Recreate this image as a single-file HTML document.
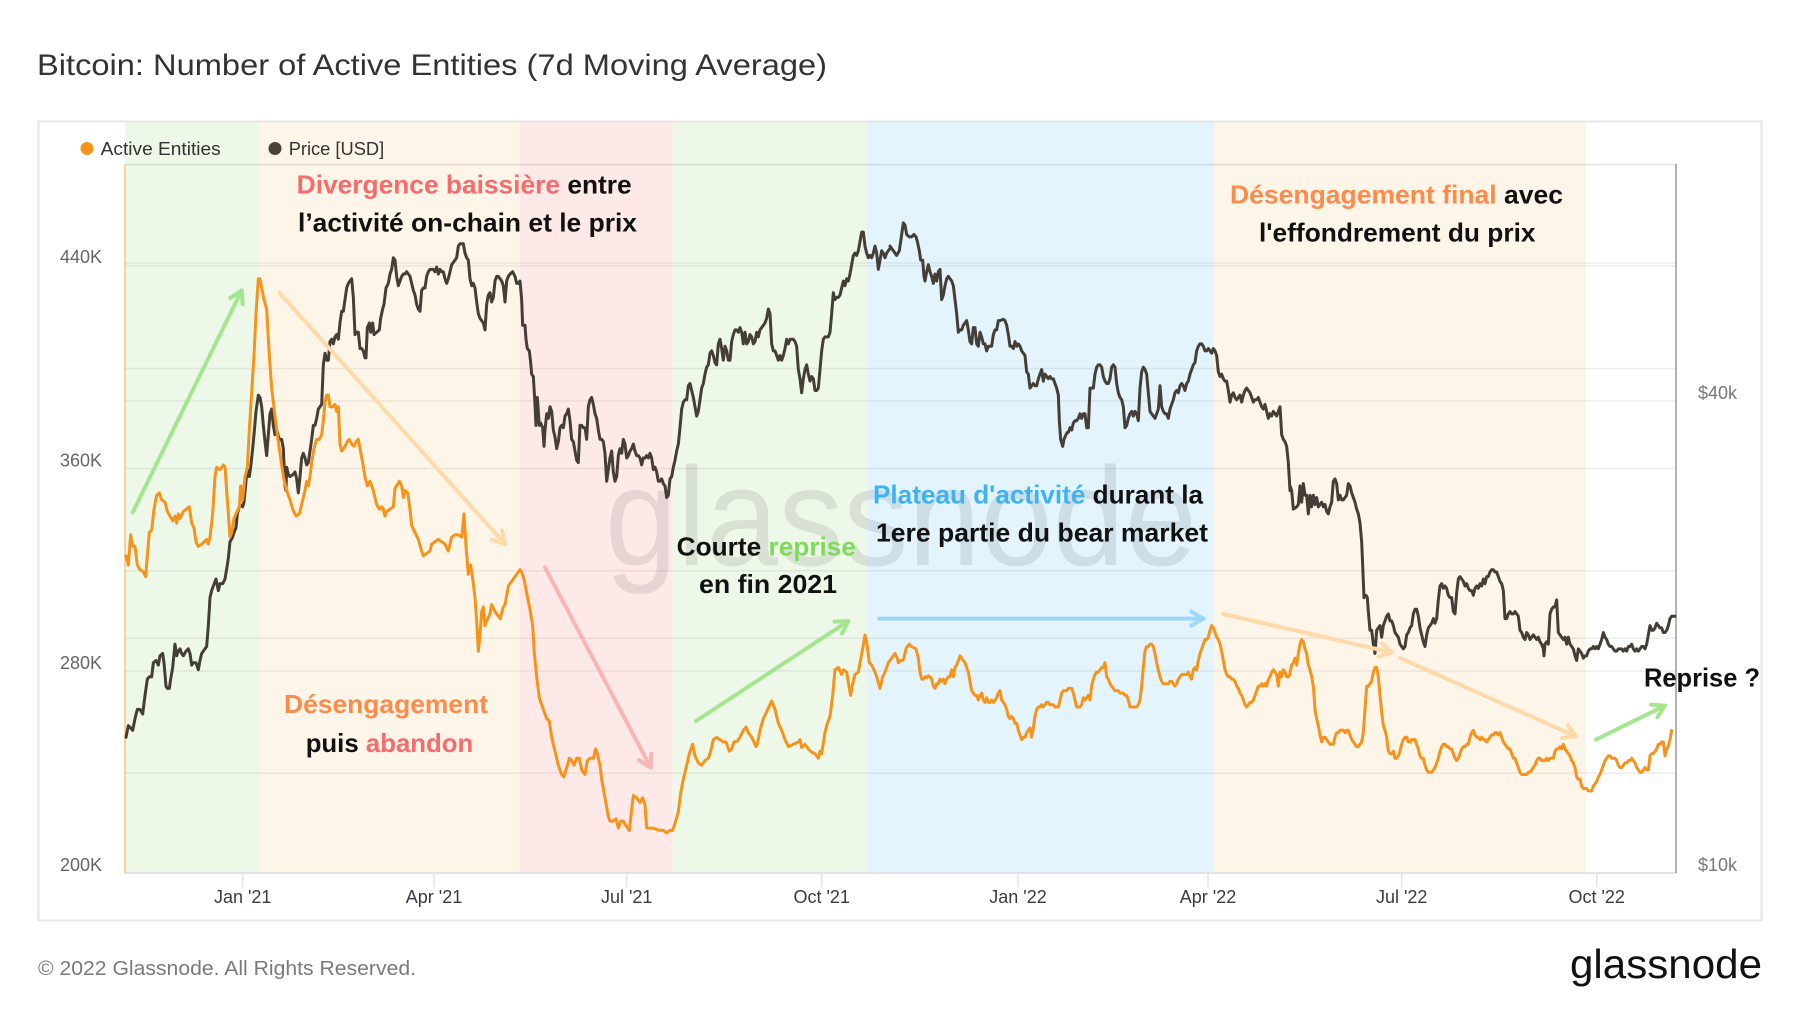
<!DOCTYPE html>
<html>
<head>
<meta charset="utf-8">
<style>
html,body{margin:0;padding:0;background:#fff;}
body{width:1800px;height:1013px;overflow:hidden;}
svg{display:block;}
text{font-family:"Liberation Sans",Arial,sans-serif;}
</style>
</head>
<body>
<svg width="1800" height="1013" viewBox="0 0 1800 1013" xmlns="http://www.w3.org/2000/svg">
<defs>
<marker id="mg" viewBox="0 0 20 20" refX="17" refY="10" markerWidth="20" markerHeight="20" orient="auto" markerUnits="userSpaceOnUse"><path d="M5,3 L17,10 L5,17" fill="none" stroke="#a5e590" stroke-width="4" stroke-linecap="round" stroke-linejoin="round"/></marker>
<marker id="mo" viewBox="0 0 20 20" refX="17" refY="10" markerWidth="20" markerHeight="20" orient="auto" markerUnits="userSpaceOnUse"><path d="M5,3 L17,10 L5,17" fill="none" stroke="#fed9a9" stroke-width="4" stroke-linecap="round" stroke-linejoin="round"/></marker>
<marker id="mp" viewBox="0 0 20 20" refX="17" refY="10" markerWidth="20" markerHeight="20" orient="auto" markerUnits="userSpaceOnUse"><path d="M5,3 L17,10 L5,17" fill="none" stroke="#f9b4b4" stroke-width="4" stroke-linecap="round" stroke-linejoin="round"/></marker>
<marker id="mb" viewBox="0 0 20 20" refX="17" refY="10" markerWidth="20" markerHeight="20" orient="auto" markerUnits="userSpaceOnUse"><path d="M5,3 L17,10 L5,17" fill="none" stroke="#9dd8fb" stroke-width="4" stroke-linecap="round" stroke-linejoin="round"/></marker>
</defs>

<!-- Title -->
<text x="37" y="75" font-size="30" fill="#333" textLength="790" lengthAdjust="spacingAndGlyphs">Bitcoin: Number of Active Entities (7d Moving Average)</text>

<!-- Box -->
<rect x="38.5" y="121.5" width="1723" height="799" fill="#fff" stroke="#e6e6e6" stroke-width="2"/>

<!-- Bands -->
<rect x="125.5" y="122.5" width="134.5" height="750.5" fill="#eef8e9"/>
<rect x="260" y="122.5" width="259.3" height="750.5" fill="#fef5e9"/>
<rect x="519.3" y="122.5" width="153.4" height="750.5" fill="#fee9e9"/>
<rect x="672.7" y="122.5" width="194" height="750.5" fill="#eef8e9"/>
<rect x="866.7" y="122.5" width="347.3" height="750.5" fill="#e3f4fd"/>
<rect x="1214" y="122.5" width="372" height="750.5" fill="#fef5e9"/>

<!-- Gridlines -->
<g stroke="#000" stroke-opacity="0.065" stroke-width="1.5">
<line x1="125" y1="266" x2="1676" y2="266"/>
<line x1="125" y1="368.5" x2="1676" y2="368.5"/>
<line x1="125" y1="468.5" x2="1676" y2="468.5"/>
<line x1="125" y1="570.7" x2="1676" y2="570.7"/>
<line x1="125" y1="671" x2="1676" y2="671"/>
<line x1="125" y1="773.3" x2="1676" y2="773.3"/>
<line x1="125" y1="263" x2="1676" y2="263"/>
<line x1="125" y1="401" x2="1676" y2="401"/>
<line x1="125" y1="638.3" x2="1676" y2="638.3"/>
</g>
<line x1="125" y1="164.5" x2="1676" y2="164.5" stroke="#000" stroke-opacity="0.1" stroke-width="1.5"/>
<line x1="125" y1="873" x2="1676" y2="873" stroke="#dcdcdc" stroke-width="1.5"/>

<!-- Ticks -->
<g stroke="#e4e4e4" stroke-width="1.5">
<line x1="242.7" y1="873" x2="242.7" y2="887"/>
<line x1="434" y1="873" x2="434" y2="887"/>
<line x1="626.7" y1="873" x2="626.7" y2="887"/>
<line x1="821.7" y1="873" x2="821.7" y2="887"/>
<line x1="1018" y1="873" x2="1018" y2="887"/>
<line x1="1208" y1="873" x2="1208" y2="887"/>
<line x1="1401.7" y1="873" x2="1401.7" y2="887"/>
<line x1="1596.7" y1="873" x2="1596.7" y2="887"/>
</g>

<!-- Axis lines -->
<line x1="125" y1="164" x2="125" y2="873" stroke="#f6c383" stroke-width="1.5"/>
<line x1="1676" y1="164" x2="1676" y2="873" stroke="#9a9a9a" stroke-width="1.5"/>

<!-- Watermark -->
<text x="605" y="565" font-size="140" fill="#000" fill-opacity="0.09" textLength="592" lengthAdjust="spacingAndGlyphs">glassnode</text>

<!-- Price series (dark) -->
<g fill="none" stroke="#443e37" stroke-width="3" stroke-linejoin="round" stroke-linecap="round">
<polyline vector-effect="non-scaling-stroke" transform="translate(110,160) scale(0.333333,0.465561)" points="48,1240 55,1215 62,1220 68,1225 75,1200 82,1180 90,1180 98,1190 105,1150 112,1115 118,1110 125,1110 130,1080 138,1075 145,1085 150,1065 158,1060 162,1080 168,1130 172,1135 178,1135 182,1115 188,1090 195,1040 200,1065 205,1055 210,1050 215,1060 220,1065 228,1055 235,1050 240,1060 245,1085 250,1080 258,1080 265,1095 270,1075 275,1060 280,1055 290,1045 295,1000 300,940 305,925 310,915 318,900 325,925 330,910 338,910 345,900 352,870 355,855 360,820 368,810 372,800 378,790 382,760 390,740 398,745 402,735 408,690 412,665 418,680 422,660 428,620 432,590 438,540 445,505 450,510 455,530 460,570 465,605 470,635 475,590 480,545 485,535 490,570 495,590 500,580 508,600 515,600 520,620 525,700 528,710 530,660 535,675 540,680 550,675 555,670 560,685 565,715 570,680 575,640 580,630 585,640 590,655 595,650 600,625 605,600 610,570 615,570 620,555 625,535 630,530 635,525 640,440 645,415 650,430 655,430 660,390 665,385 670,395 675,380 680,375 685,385 690,350 695,325 700,325 705,300 710,275 715,265 720,260 725,255 730,295 735,375 740,370 745,370 750,405 755,405 760,410 765,425 768,425 772,360 778,350 782,370 788,350 792,375 800,370 808,365 812,340 818,320 822,310 828,275 835,265 840,245 845,235 850,210 855,215 860,250 865,270 870,260 875,250 880,245 885,245 890,240 895,245 900,250 905,265 910,280 915,290 920,310 925,320 930,325 935,280 940,275 945,275 950,250 955,240 960,235 965,235 970,235 975,240 980,230 985,245 990,235 995,240 1000,240 1005,255 1010,265 1015,255 1020,240 1025,225 1030,220 1035,215 1040,210 1045,185 1050,180 1055,180 1060,180 1065,200 1070,210 1075,215 1080,255 1085,270 1090,265 1095,275 1100,305 1105,330 1110,340 1115,345 1120,350 1125,365 1130,310 1135,290 1140,285 1145,305 1150,295 1155,260 1160,250 1165,250 1170,255"/>
<polyline vector-effect="non-scaling-stroke" transform="translate(500,160) scale(0.333333,0.465561)" points="0,255 5,260 10,270 15,305 20,260 25,250 30,245 38,240 45,250 50,265 55,265 60,260 65,300 68,355 75,355 78,385 82,405 88,410 92,435 95,460 100,465 105,525 108,570 112,510 118,570 122,565 128,575 132,615 135,580 140,545 145,555 150,530 155,540 160,580 165,595 170,620 175,605 180,575 185,570 190,575 195,550 200,545 205,535 210,560 215,600 220,605 225,625 230,645 235,650 240,570 245,570 250,575 255,575 260,600 265,530 270,515 275,510 280,525 285,545 290,555 295,580 300,600 305,600 310,605 315,630 320,690 325,665 330,640 335,625 340,670 345,690 350,680 355,635 360,620 365,630 370,600 375,610 380,640 385,635 390,625 395,620 400,610 405,625 410,635 415,635 420,640 425,655 430,640 435,640 440,635 445,640 450,630 455,640 460,665 465,660 470,670 475,690 480,690 485,685 490,695 495,700 500,725 505,720 510,685 515,680 520,660 525,645 530,625 535,610 540,575 545,535 550,520 555,515 560,515 565,485 570,480 575,495 580,510 585,530 590,550 595,540 600,515 605,490 610,480 615,460 620,445 625,440 630,415 635,410 640,420 645,435 650,440 655,395 660,385 665,405 670,430 675,400 680,410 685,430 690,430 695,390 700,375 705,365 710,365 715,370 720,360 725,370 730,395 735,370 740,395 745,390 750,375 755,380 760,395 765,390 770,370 775,380 780,365 785,360 790,355 795,350 800,340 805,320 810,330 815,395 820,410 825,410 830,420 835,430 840,420 845,430 850,420 855,405 860,385 865,395 870,385 875,385 880,385 885,390 890,400 895,450 900,470 905,500 910,470 915,450 920,440 925,460 930,475 935,465 940,470 945,495 950,495 955,490 960,450 965,410 970,385 975,380 980,380 985,380 990,370 995,330 1000,285 1005,300 1010,295 1015,295 1020,290 1025,275 1030,260 1035,270 1040,255 1045,260 1050,245 1055,225 1060,205 1065,200 1070,205 1075,195 1080,175 1085,155 1090,155 1095,185 1100,200 1105,210 1110,205 1115,210 1120,200 1125,185 1130,200 1135,235 1140,215 1145,195 1150,200 1155,210 1160,200 1165,195 1170,190"/>
<polyline vector-effect="non-scaling-stroke" transform="translate(890,160) scale(0.333333,0.465561)" points="0,185 10,195 20,205 28,195 35,160 40,135 45,140 50,160 58,165 65,165 72,160 78,165 82,175 88,195 92,215 98,215 102,250 105,260 110,240 115,225 120,240 125,250 130,265 135,245 140,260 145,240 150,235 155,300 160,290 165,270 170,255 175,250 180,255 185,260 190,270 195,300 200,330 205,370 210,365 215,365 220,355 225,350 230,345 235,365 240,390 245,395 250,360 255,360 260,395 265,400 270,370 275,380 280,395 285,395 290,410 295,400 300,400 305,400 310,375 315,365 320,365 325,345 330,345 340,342 345,345 350,355 355,375 360,400 365,400 370,405 375,390 380,400 385,395 390,400 395,410 400,415 405,420 410,455 415,460 420,490 425,485 430,480 435,485 440,485 445,470 450,460 455,450 460,475 465,460 470,465 475,470 480,465 485,470 490,470 495,480 500,490 505,505 508,560 512,600 518,615 522,600 528,590 532,585 535,585 540,575 545,580 550,565 555,560 560,560 565,555 570,545 575,555 580,545 585,545 590,575 595,575 600,490 605,490 610,490 615,460 620,445 625,440 630,440 635,445 640,465 645,475 650,480 655,480 660,470 665,445 670,440 675,445 680,480 685,500 690,510 695,515 700,530 705,575 710,570 715,555 720,545 725,540 730,550 735,540 740,545 745,560 750,490 755,455 760,445 765,450 770,460 775,500 780,540 785,545 790,550 795,555 800,545 805,535 810,485 815,530 820,540 825,545 830,545 835,555 840,535 845,525 850,515 855,500 860,495 865,500 870,485 875,480 880,485 885,495 890,480 895,475 900,460 905,450 910,440 915,435 920,410 925,400 930,395 935,395 940,400 945,410 950,410 955,405 960,410 965,415 970,405 975,410 980,420 985,455 990,465 995,460 1000,470 1005,475 1010,475 1015,495 1020,520 1025,505 1030,500 1035,510 1040,515 1045,510 1050,505 1055,520 1060,505 1065,495 1070,490 1075,495 1080,500 1085,510 1090,520 1095,515 1100,515 1105,510 1110,520 1115,530 1120,535 1125,525 1130,540 1135,555 1140,545 1145,550 1150,540 1155,545 1160,550 1165,540 1170,530 1175,590 1180,600 1185,605 1190,615 1195,650 1200,710"/>
<polyline vector-effect="non-scaling-stroke" transform="translate(1290,160) scale(0.333333,0.465561)" points="0,700 5,710 10,750 20,745 25,740 30,700 35,735 40,695 45,720 50,720 55,760 60,720 65,745 70,720 75,740 80,725 85,745 90,740 95,735 100,745 105,740 110,755 115,760 120,745 125,735 130,690 135,685 140,695 145,730 150,720 155,730 160,730 165,725 170,720 175,695 180,700 185,715 190,725 195,735 200,750 205,760 210,780 215,820 218,870 222,940 228,935 232,940 235,970 240,1010 245,1010 250,1040 255,1060 258,1030 260,1010 265,1005 270,1000 275,1025 280,1000 285,990 290,980 295,975 300,990 305,990 310,1000 315,1015 320,1020 325,1025 330,1040 340,1050 345,1045 350,1020 355,1015 360,1005 365,1000 370,975 375,965 380,965 385,980 390,1005 395,1020 400,1035 405,1045 410,1020 415,1005 420,1000 425,995 430,985 435,995 440,985 445,945 450,915 455,910 460,920 465,915 470,920 475,935 480,940 485,940 490,970 495,975 500,930 505,900 510,895 515,900 520,905 525,915 530,910 535,920 540,925 545,925 550,935 555,920 560,915 565,920 570,910 575,915 580,900 585,910 590,895 595,895 600,885 605,880 610,880 615,885 620,885 625,895 630,905 635,910 640,925 645,985 650,985 655,975 660,970 665,975 670,975 675,970 680,975 685,980 690,1010 695,1015 700,1025 705,1030 710,1015 715,1020 720,1030 725,1025 730,1020 735,1025 740,1030 745,1025 750,1035 755,1040 760,1050 762,1065 765,1040 770,1035 775,1040 780,975 785,965 790,960 795,960 800,945 805,1015 810,1020 815,1025 820,1030 825,1025 830,1040 835,1025 840,1040 845,1045 850,1050 855,1065 860,1075 865,1050 870,1055 875,1060 880,1070 885,1065 890,1065 895,1055 900,1050 905,1050 910,1045 915,1050 920,1045 925,1050 930,1040 935,1030 940,1015 945,1025 950,1030 955,1040 960,1045 965,1045 970,1050 975,1055 980,1055 985,1050 990,1050 995,1050 1000,1055 1005,1050 1010,1055 1015,1045 1020,1045 1025,1040 1030,1050 1035,1055 1040,1050 1045,1055 1050,1050 1055,1045 1060,1045 1065,1050 1070,1040 1075,1020 1080,1000 1085,1010 1090,1010 1095,1005 1100,995 1105,1000 1110,1005 1115,1005 1120,1015 1125,1015 1130,1010 1135,1000 1140,985 1145,980 1150,980 1155,980"/>
</g>

<!-- Active Entities series (orange) -->
<g fill="none" stroke="#f7931a" stroke-width="3" stroke-linejoin="round" stroke-linecap="round">
<polyline vector-effect="non-scaling-stroke" transform="translate(110,160) scale(0.333333,0.465561)" points="48,850 55,870 62,805 68,830 75,830 82,870 90,880 100,885 107,895 112,850 118,800 125,795 132,750 140,720 148,715 155,730 165,735 172,755 180,765 188,775 195,765 200,780 205,760 210,770 220,755 238,745 245,780 252,790 258,820 265,830 275,825 282,820 290,815 295,825 300,810 308,760 315,680 320,660 330,665 340,655 345,660 352,730 360,810 365,800 372,770 378,760 388,745 392,700 398,730 405,680 412,660 418,580 425,500 432,420 438,330 445,255 450,255 455,275 462,300 470,320 478,420 485,490 495,550 502,590 510,630 520,680 530,710 540,730 548,750 558,765 568,760 575,740 585,710 590,690 595,700 600,680 605,650 612,620 620,600 628,600 635,590 640,560 645,520 650,505 655,505 660,530 668,530 675,525 680,540 685,530 690,610 695,625 705,615 712,605 718,600 725,610 732,615 738,605 745,600 750,620 758,650 765,680 772,700 780,690 790,710 800,740 808,750 815,745 820,750 825,765 830,755 840,750 850,745 855,705 860,700 868,690 875,700 880,725 885,710 893,715 900,750 905,785 915,800 925,815 935,840 940,850 950,845 960,840 965,825 975,820 985,815 995,820 1005,825 1015,840 1025,810 1035,805 1045,805 1055,810 1062,760 1068,830 1075,890 1082,870 1090,910 1095,940 1100,990 1105,1055 1110,1020 1115,970 1120,960 1125,1000 1130,990 1140,975 1145,955 1155,970 1165,980 1172,985"/>
<polyline vector-effect="non-scaling-stroke" transform="translate(500,160) scale(0.333333,0.465561)" points="0,985 10,960 15,955 25,915 35,905 45,895 55,885 60,880 65,885 72,900 80,930 90,965 98,1000 103,1060 110,1110 118,1155 125,1170 135,1190 140,1200 148,1205 155,1240 165,1270 175,1300 185,1320 192,1325 200,1305 208,1285 215,1290 222,1300 230,1285 238,1285 245,1310 255,1320 262,1290 270,1285 280,1285 287,1265 292,1275 300,1300 305,1330 315,1370 325,1410 330,1420 340,1420 348,1415 355,1435 362,1420 370,1420 378,1430 388,1440 395,1395 400,1365 410,1370 420,1380 428,1370 435,1385 440,1435 448,1435 458,1435 470,1438 480,1440 490,1440 500,1445 510,1440 518,1440 525,1425 535,1400 542,1360 550,1330 560,1300 568,1275 578,1255 585,1280 595,1295 605,1300 615,1290 625,1285 632,1270 640,1245 650,1240 660,1245 670,1250 678,1250 688,1270 695,1265 702,1250 712,1248 720,1240 730,1225 738,1218 745,1230 755,1240 762,1250 768,1260 772,1255 780,1225 790,1200 800,1185 810,1170 815,1162 825,1180 835,1210 845,1225 855,1245 865,1260 880,1255 895,1250 900,1245 905,1262 915,1255 925,1265 935,1272 945,1275 955,1285 960,1270 965,1275 975,1230 982,1210 990,1195 998,1150 1005,1095 1015,1090 1025,1105 1030,1095 1040,1100 1048,1135 1052,1150 1058,1125 1065,1105 1075,1100 1080,1080 1088,1050 1095,1020 1100,1035 1108,1080 1115,1085 1125,1100 1130,1110 1140,1135 1148,1110 1155,1100 1165,1080 1175,1070"/>
<polyline vector-effect="non-scaling-stroke" transform="translate(890,160) scale(0.333333,0.465561)" points="5,1070 10,1065 15,1060 22,1070 25,1080 32,1075 38,1075 42,1070 48,1050 52,1045 58,1040 65,1045 72,1048 78,1050 85,1070 90,1100 95,1115 100,1115 105,1110 110,1112 115,1108 120,1110 125,1115 130,1130 135,1135 140,1125 145,1125 150,1115 155,1120 160,1115 165,1125 170,1115 175,1110 180,1110 185,1095 190,1110 195,1090 200,1085 205,1075 210,1065 215,1070 220,1075 225,1080 230,1090 235,1100 240,1120 245,1140 250,1145 255,1150 260,1150 265,1160 270,1150 275,1145 280,1160 285,1165 290,1155 295,1165 300,1165 305,1160 310,1165 315,1160 320,1155 325,1145 330,1140 335,1160 340,1165 345,1170 350,1180 355,1195 360,1200 365,1195 370,1200 375,1210 380,1210 385,1225 390,1235 395,1245 400,1240 405,1240 410,1230 415,1225 420,1220 425,1240 430,1220 435,1195 440,1180 445,1175 450,1175 455,1170 460,1175 465,1170 470,1165 475,1165 480,1170 485,1170 490,1170 495,1175 500,1175 505,1175 510,1160 515,1145 520,1140 525,1140 530,1140 535,1135 540,1135 545,1135 550,1145 555,1160 560,1175 565,1175 570,1175 575,1170 580,1155 585,1160 590,1155 595,1150 600,1160 605,1130 610,1115 615,1105 620,1100 625,1100 630,1095 635,1090 640,1090 645,1080 650,1110 655,1115 660,1125 665,1130 670,1135 675,1140 680,1140 685,1140 690,1145 695,1145 700,1145 705,1150 710,1150 715,1160 720,1175 725,1175 730,1175 735,1175 740,1175 745,1170 750,1160 755,1130 760,1090 765,1055 770,1045 775,1045 780,1040 785,1040 790,1045 795,1060 800,1080 805,1095 810,1110 815,1120 820,1125 825,1125 830,1125 835,1125 840,1120 845,1120 850,1125 855,1130 860,1125 865,1115 870,1110 875,1105 880,1105 885,1105 890,1105 895,1100 900,1110 905,1115 910,1095 915,1090 920,1095 925,1075 930,1060 935,1050 940,1040 945,1030 950,1030 955,1025 960,1010 965,1000 970,1005 975,1015 980,1025 985,1030 990,1040 995,1055 1000,1075 1005,1095 1010,1105 1015,1110 1020,1110 1025,1115 1030,1115 1035,1120 1040,1130 1045,1135 1050,1145 1055,1150 1060,1160 1065,1170 1070,1175 1075,1170 1080,1165 1085,1165 1090,1160 1095,1150 1100,1140 1105,1130 1110,1130 1115,1125 1120,1130 1125,1125 1130,1130 1135,1115 1140,1110 1145,1100 1150,1095 1155,1100 1160,1105 1165,1130 1168,1110 1170,1100 1175,1110 1180,1095 1185,1100 1190,1110 1195,1110 1200,1105"/>
<polyline vector-effect="non-scaling-stroke" transform="translate(1290,160) scale(0.333333,0.465561)" points="0,1100 5,1085 10,1080 15,1070 20,1085 25,1060 30,1040 35,1030 40,1035 45,1050 50,1060 55,1085 60,1095 65,1110 70,1130 75,1180 80,1200 85,1215 90,1235 95,1250 100,1240 105,1240 110,1245 115,1250 120,1255 125,1255 130,1255 135,1240 140,1230 145,1230 150,1225 155,1225 160,1225 165,1230 170,1225 175,1225 180,1235 185,1245 190,1250 195,1255 200,1260 205,1260 210,1255 215,1250 220,1230 225,1180 230,1130 235,1130 240,1125 245,1120 250,1100 255,1090 260,1090 265,1110 270,1150 275,1185 280,1215 285,1225 290,1240 295,1270 300,1275 305,1275 310,1270 315,1285 320,1285 325,1280 330,1270 335,1255 340,1245 345,1240 350,1240 355,1250 360,1250 365,1245 370,1245 375,1245 380,1255 385,1265 390,1280 395,1285 400,1285 405,1300 410,1310 415,1315 420,1315 425,1315 430,1310 435,1305 440,1295 445,1285 450,1270 455,1260 460,1255 465,1255 470,1260 475,1260 480,1265 485,1265 490,1275 495,1285 500,1290 505,1285 510,1275 515,1265 520,1260 525,1260 530,1255 535,1255 540,1240 545,1230 550,1225 555,1235 560,1240 565,1240 570,1245 575,1240 580,1245 585,1245 590,1250 595,1245 600,1240 605,1235 610,1235 615,1230 620,1230 625,1235 630,1230 635,1240 640,1250 645,1255 650,1260 655,1265 660,1265 665,1275 670,1285 675,1285 680,1295 685,1305 690,1315 695,1320 700,1320 705,1320 710,1320 715,1315 720,1315 725,1310 730,1305 735,1300 740,1290 745,1285 750,1285 755,1290 760,1290 765,1290 770,1285 775,1290 780,1285 785,1285 790,1285 795,1270 800,1265 805,1265 810,1260 815,1265 820,1255 825,1265 830,1270 835,1275 840,1280 845,1290 850,1295 855,1305 860,1325 865,1330 870,1330 875,1345 880,1350 885,1350 890,1350 895,1355 900,1355 905,1355 910,1345 915,1340 920,1335 925,1325 930,1320 935,1310 940,1300 945,1290 950,1285 955,1280 960,1280 965,1285 970,1285 975,1285 980,1290 985,1300 990,1305 995,1305 1000,1300 1005,1295 1010,1295 1015,1290 1020,1290 1025,1285 1030,1290 1035,1295 1040,1305 1045,1310 1050,1315 1055,1315 1060,1310 1065,1305 1070,1310 1075,1310 1080,1280 1085,1275 1090,1275 1095,1270 1100,1265 1105,1255 1110,1255 1115,1250 1120,1250 1125,1280 1130,1265 1135,1260 1140,1245 1145,1225"/>
</g>

<!-- Arrows -->
<g fill="none" stroke-width="4" stroke-linecap="round">
<line x1="132.7" y1="512.4" x2="241.7" y2="290.4" stroke="#a5e590" marker-end="url(#mg)"/>
<line x1="279.3" y1="292.7" x2="505" y2="544" stroke="#fed9a9" marker-end="url(#mo)"/>
<line x1="545" y1="567.4" x2="650.7" y2="767.5" stroke="#f9b4b4" marker-end="url(#mp)"/>
<line x1="696" y1="721" x2="848.3" y2="621" stroke="#a5e590" marker-end="url(#mg)"/>
<line x1="879.3" y1="618.6" x2="1203.3" y2="618.6" stroke="#9dd8fb" marker-end="url(#mb)"/>
<line x1="1223.3" y1="614" x2="1391.7" y2="652.5" stroke="#fed9a9" marker-end="url(#mo)"/>
<line x1="1400" y1="658" x2="1576" y2="736.4" stroke="#fed9a9" marker-end="url(#mo)"/>
<line x1="1596" y1="739.6" x2="1665" y2="705.6" stroke="#a5e590" marker-end="url(#mg)"/>
</g>

<!-- Annotations -->
<g font-size="26" font-weight="bold" fill="#111">
<text x="296.7" y="193.3" textLength="335" lengthAdjust="spacingAndGlyphs"><tspan fill="#f66b6b">Divergence baissière</tspan> entre</text>
<text x="298" y="231.7" textLength="339" lengthAdjust="spacingAndGlyphs">l’activité on-chain et le prix</text>
<text x="1230" y="203.5" textLength="333" lengthAdjust="spacingAndGlyphs"><tspan fill="#fd8b4c">Désengagement final</tspan> avec</text>
<text x="1259" y="241.7" textLength="276.5" lengthAdjust="spacingAndGlyphs">l'effondrement du prix</text>
<text x="873" y="503.6" textLength="330" lengthAdjust="spacingAndGlyphs"><tspan fill="#3cb4f4">Plateau d'activité</tspan> durant la</text>
<text x="876" y="541.7" textLength="332" lengthAdjust="spacingAndGlyphs">1ere partie du bear market</text>
<text x="676.7" y="555.7" textLength="179.3" lengthAdjust="spacingAndGlyphs">Courte <tspan fill="#7edb5a">reprise</tspan></text>
<text x="699" y="593" textLength="138" lengthAdjust="spacingAndGlyphs">en fin 2021</text>
<text x="284" y="713" textLength="204" lengthAdjust="spacingAndGlyphs" fill="#fd8b4c">Désengagement</text>
<text x="305.7" y="752" textLength="167.6" lengthAdjust="spacingAndGlyphs">puis <tspan fill="#f66b6b">abandon</tspan></text>
<text x="1644" y="686.7" textLength="116" lengthAdjust="spacingAndGlyphs">Reprise ?</text>
</g>

<!-- Legend -->
<circle cx="87" cy="148.5" r="6.5" fill="#f7931a"/>
<text x="100.7" y="155" font-size="18.5" fill="#333" textLength="120" lengthAdjust="spacingAndGlyphs">Active Entities</text>
<circle cx="275" cy="148.5" r="6.5" fill="#4a4239"/>
<text x="288.7" y="155" font-size="18.5" fill="#333" textLength="95.5" lengthAdjust="spacingAndGlyphs">Price [USD]</text>

<!-- Left axis labels -->
<g font-size="18" fill="#666" text-anchor="end">
<text x="102" y="263">440K</text>
<text x="102" y="466.5">360K</text>
<text x="102" y="669">280K</text>
<text x="102" y="871">200K</text>
</g>
<!-- Right axis labels -->
<g font-size="18" fill="#777">
<text x="1698" y="399">$40k</text>
<text x="1698" y="871">$10k</text>
</g>
<!-- X labels -->
<g font-size="18" fill="#3a3a44" text-anchor="middle">
<text x="242.7" y="903">Jan '21</text>
<text x="434" y="903">Apr '21</text>
<text x="626.7" y="903">Jul '21</text>
<text x="821.7" y="903">Oct '21</text>
<text x="1018" y="903">Jan '22</text>
<text x="1208" y="903">Apr '22</text>
<text x="1401.7" y="903">Jul '22</text>
<text x="1596.7" y="903">Oct '22</text>
</g>

<!-- Footer -->
<text x="38" y="975" font-size="20" fill="#7a7a7a" textLength="378" lengthAdjust="spacingAndGlyphs">© 2022 Glassnode. All Rights Reserved.</text>
<text x="1570" y="978" font-size="41" fill="#111" textLength="192" lengthAdjust="spacingAndGlyphs">glassnode</text>
</svg>
</body>
</html>
